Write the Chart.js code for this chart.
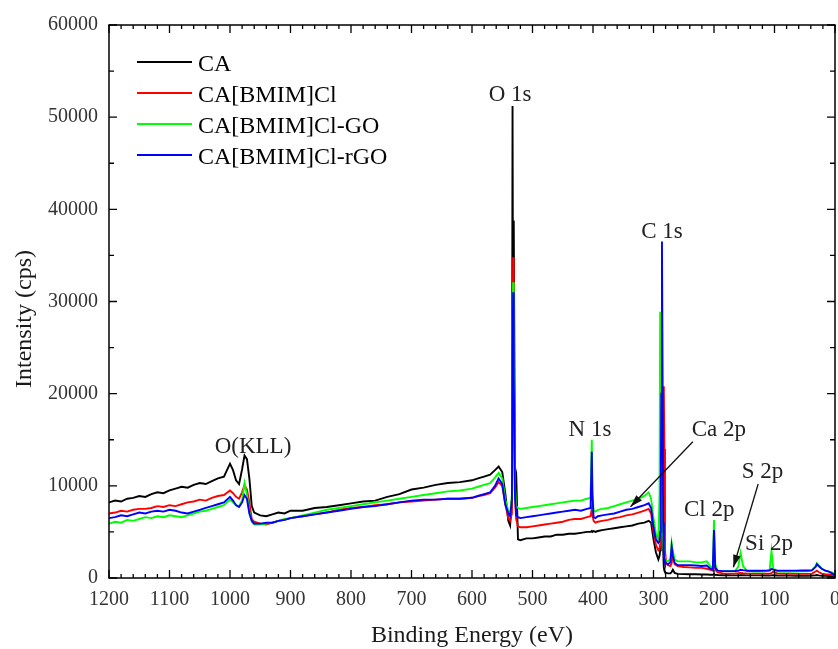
<!DOCTYPE html>
<html>
<head>
<meta charset="utf-8">
<script src="https://cdn.jsdelivr.net/npm/chart.js@4.4.1/dist/chart.umd.min.js"></script>
<style>
  html, body { margin: 0; padding: 0; background: #fff; }
  #wrap { width: 838px; height: 649px; }
</style>
</head>
<body>
<div id="wrap"><canvas id="xps" width="838" height="649"></canvas></div>
<script>
"use strict"

// binding energy (eV), shared by all four spectra
var energy = [
  1200, 1190, 1180, 1170, 1160, 1150, 1140, 1130, 1120, 1110,
  1100, 1090, 1080, 1070, 1060, 1050, 1040, 1030, 1020, 1010,
  1000, 995, 990, 985, 980, 976, 972, 968, 964, 960,
  950, 940, 930, 920, 910, 900, 880, 860, 840, 820,
  800, 780, 760, 740, 720, 700, 680, 660, 640, 620,
  600, 590, 580, 570, 562, 556, 550, 545, 540, 537,
  534, 533, 532, 531, 529, 527, 524, 520, 510, 500,
  490, 480, 470, 460, 450, 440, 430, 420, 410, 404,
  402, 401, 399, 396, 392, 385, 375, 365, 355, 345,
  335, 325, 315, 308, 304, 300, 296, 292, 290, 289,
  288, 287, 286, 285, 284, 283, 282, 281, 279, 276,
  272, 270, 268, 265, 260, 250, 240, 230, 220, 212,
  206, 202, 200, 198, 194, 185, 175, 165, 160, 156,
  152, 145, 135, 125, 115, 108, 105, 102, 95, 85,
  75, 65, 55, 45, 38, 32, 30, 27, 22, 16,
  10, 5, 0
];

var caCounts = [
  8200, 8400, 8300, 8600, 8700, 8900, 8800, 9100, 9300, 9200,
  9500, 9700, 9900, 9800, 10100, 10300, 10200, 10500, 10800, 11000,
  12400, 11700, 10600, 10200, 11800, 13300, 12900, 10800, 7800, 7100,
  6800, 6700, 6900, 7100, 7000, 7300, 7300, 7600, 7700, 7900,
  8100, 8300, 8400, 8800, 9100, 9600, 9800, 10100, 10300, 10400,
  10600, 10800, 11000, 11200, 11700, 12100, 11500, 9200, 6200, 5700,
  8500, 51200, 22000, 38800, 12000, 11400, 4200, 4100, 4300, 4300,
  4400, 4500, 4500, 4700, 4700, 4800, 4800, 4900, 5000, 5000,
  5100, 5000, 5100, 5000, 5100, 5200, 5300, 5400, 5500, 5600,
  5700, 5900, 6000, 6200, 6000, 4200, 2800, 2000, 2400, 3000,
  6000, 12000, 17000, 9000, 3000, 1200, 800, 650, 550, 500,
  500, 650, 900, 550, 450, 420, 400, 400, 380, 380,
  360, 350, 420, 340, 320, 300, 300, 290, 290, 300,
  300, 290, 280, 280, 270, 270, 280, 300, 270, 260,
  260, 250, 250, 240, 260, 300, 320, 280, 250, 230,
  220, 210, 200
];

var bmimCounts = [
  7000, 7100, 7300, 7200, 7400, 7500, 7500, 7600, 7800, 7700,
  7900, 7800, 8000, 8200, 8300, 8500, 8400, 8700, 8900, 9000,
  9500, 9200, 8800, 8600, 9300, 10100, 9600, 8200, 6400, 6100,
  5900, 5800, 6000, 6200, 6300, 6500, 6700, 6900, 7100, 7400,
  7600, 7700, 7900, 8000, 8200, 8300, 8400, 8500, 8600, 8600,
  8700, 8900, 9000, 9200, 9800, 10400, 10000, 8000, 6500, 6200,
  7000, 22000, 34800, 26000, 9000, 6400, 5600, 5500, 5500, 5600,
  5700, 5800, 5900, 6000, 6100, 6300, 6400, 6400, 6600, 6700,
  7500, 6900, 6200, 6000, 6100, 6200, 6300, 6500, 6600, 6800,
  6900, 7100, 7300, 7500, 7000, 5000, 3600, 3000, 3200, 3600,
  4500, 6000, 8000, 12000, 17000, 20800, 14000, 3000, 1600, 1400,
  1300, 1600, 2600, 1500, 1300, 1200, 1150, 1100, 1100, 1000,
  900, 800, 3000, 900, 600, 500, 480, 500, 520, 560,
  520, 480, 480, 470, 470, 480, 520, 700, 470, 460,
  460, 450, 450, 450, 480, 700, 800, 650, 480, 420,
  380, 320, 260
];

var goCounts = [
  5900, 6100, 6000, 6300, 6200, 6400, 6600, 6500, 6700, 6600,
  6800, 6700, 6600, 6800, 7000, 7200, 7300, 7500, 7700, 7900,
  8500, 8200, 7900, 7800, 8400, 10300, 9000, 7200, 6100, 5800,
  5800, 5900, 6000, 6200, 6400, 6500, 6800, 7100, 7400, 7600,
  7800, 8000, 8200, 8400, 8600, 8800, 9000, 9200, 9400, 9500,
  9700, 9900, 10100, 10300, 10900, 11400, 10800, 8500, 7300, 7000,
  9000, 26000, 32100, 24000, 10000, 7800, 7600, 7500, 7600, 7700,
  7800, 7900, 8000, 8100, 8200, 8300, 8400, 8400, 8600, 8700,
  15000, 9500, 7300, 7200, 7400, 7500, 7600, 7800, 8000, 8200,
  8400, 8600, 8900, 9300, 8600, 6500, 4800, 4200, 9000, 28900,
  20000, 9000, 6000, 5000, 4000, 3000, 2400, 2000, 1900, 1800,
  2100, 3800, 2900, 2000, 1800, 1800, 1800, 1700, 1700, 1800,
  1300, 1000, 6300, 1500, 800, 750, 750, 800, 1200, 2700,
  1300, 750, 700, 700, 720, 900, 2900, 1000, 700, 700,
  700, 700, 720, 720, 800, 1300, 1600, 1400, 1000, 800,
  700, 600, 400
];

var rgoCounts = [
  6500, 6600, 6800, 6700, 6900, 7100, 7000, 7200, 7300, 7200,
  7400, 7300, 7100, 7000, 7200, 7400, 7600, 7800, 8000, 8200,
  8800, 8400, 7900, 7700, 8200, 9000, 8600, 7000, 6200, 5900,
  5900, 6000, 6000, 6200, 6300, 6500, 6700, 6900, 7100, 7300,
  7500, 7700, 7800, 8000, 8200, 8400, 8500, 8500, 8600, 8600,
  8700, 8900, 9100, 9300, 10000, 10800, 10200, 8000, 7000, 6700,
  8500, 24000, 31000, 22000, 9000, 6800, 6600, 6500, 6600, 6700,
  6800, 6900, 7000, 7100, 7200, 7300, 7400, 7300, 7500, 7600,
  13700, 9000, 6600, 6500, 6700, 6800, 6900, 7000, 7200, 7400,
  7500, 7700, 7900, 8100, 7600, 5500, 4200, 3800, 4000, 5000,
  9000, 20000, 36500, 22000, 6000, 3000, 2000, 1700, 1600, 1500,
  1700, 3400, 2400, 1600, 1400, 1400, 1400, 1350, 1300, 1350,
  1000, 900, 5200, 1100, 800, 750, 750, 760, 780, 900,
  850, 780, 780, 780, 800, 820, 1000, 900, 800, 800,
  800, 800, 820, 820, 850, 1200, 1500, 1300, 1000, 800,
  700, 500, 300
];

var seriesNames = ['CA', 'CA[BMIM]Cl', 'CA[BMIM]Cl-GO', 'CA[BMIM]Cl-rGO'];
var seriesColors = ['#000000', '#ff0000', '#00ff00', '#0000ff'];

// peak labels, placed in data units (energy, counts)
var peakNames  = ['O 1s', 'C 1s', 'N 1s', 'Ca 2p', 'S 2p', 'Cl 2p', 'Si 2p', 'O(KLL)'];
var peakEnergy = [537, 286, 405, 192, 120, 208, 109, 962];
var peakHeight = [51700, 36900, 15400, 15400, 10850, 6720, 3040, 13560];

// pointer arrows: [fromEnergy, fromCounts, toEnergy, toCounts]
var arrows = [
  [235, 14780, 338, 7730],
  [127, 10200, 168, 1160]
];

var serif = '"Liberation Serif", "Times New Roman", serif';

function toPoints(vals) {
  return energy.map(function (e, i) { return { x: e, y: vals[i] }; });
}

var allCounts = [caCounts, bmimCounts, goCounts, rgoCounts];
var datasets = allCounts.map(function (vals, i) {
  return {
    label: seriesNames[i],
    data: toPoints(vals),
    borderColor: seriesColors[i],
    backgroundColor: seriesColors[i],
    borderWidth: 1.9,
    pointRadius: 0,
    fill: false,
    tension: 0,
    order: 4 - i // blue drawn last, on top
  };
});

var decor = {
  id: 'decor',
  afterDraw: function (chart) {
    var ctx = chart.ctx, a = chart.chartArea;
    var xs = chart.scales.x, ys = chart.scales.y;
    ctx.save();

    // frame
    ctx.strokeStyle = '#000';
    ctx.lineWidth = 1.5;
    ctx.strokeRect(a.left, a.top, a.right - a.left, a.bottom - a.top);

    // inward ticks on all four sides
    ctx.lineWidth = 1.3;
    ctx.beginPath();
    for (var e = 0; e <= 1200; e += 20) {
      var px = xs.getPixelForValue(e);
      var len = (e % 100 === 0) ? 8 : 4;
      ctx.moveTo(px, a.bottom); ctx.lineTo(px, a.bottom - len);
      ctx.moveTo(px, a.top); ctx.lineTo(px, a.top + len);
    }
    for (var v = 0; v <= 60000; v += 5000) {
      var py = ys.getPixelForValue(v);
      var l2 = (v % 10000 === 0) ? 8 : 5;
      ctx.moveTo(a.left, py); ctx.lineTo(a.left + l2, py);
      ctx.moveTo(a.right, py); ctx.lineTo(a.right - l2, py);
    }
    ctx.stroke();

    // axis titles
    ctx.fillStyle = '#1a1a1a';
    ctx.font = '24px ' + serif;
    ctx.textAlign = 'center';
    ctx.textBaseline = 'alphabetic';
    ctx.fillText('Binding Energy (eV)', (a.left + a.right) / 2, 642);
    ctx.save();
    ctx.translate(31, 319);
    ctx.rotate(-Math.PI / 2);
    ctx.fillText('Intensity (cps)', 0, 0);
    ctx.restore();

    // legend
    ctx.textAlign = 'left';
    ctx.font = '24px ' + serif;
    seriesNames.forEach(function (name, i) {
      var ly = 62 + i * 31;
      ctx.strokeStyle = seriesColors[i];
      ctx.lineWidth = 2;
      ctx.beginPath();
      ctx.moveTo(137, ly); ctx.lineTo(192, ly);
      ctx.stroke();
      ctx.fillStyle = '#000';
      ctx.fillText(name, 198, ly + 9);
    });

    // peak labels
    ctx.fillStyle = '#222';
    ctx.font = '23px ' + serif;
    ctx.textAlign = 'center';
    peakNames.forEach(function (name, i) {
      ctx.fillText(name, xs.getPixelForValue(peakEnergy[i]), ys.getPixelForValue(peakHeight[i]));
    });

    // arrows
    ctx.strokeStyle = '#111';
    ctx.fillStyle = '#111';
    ctx.lineWidth = 1.3;
    arrows.forEach(function (ar) {
      var x1 = xs.getPixelForValue(ar[0]), y1 = ys.getPixelForValue(ar[1]);
      var x2 = xs.getPixelForValue(ar[2]), y2 = ys.getPixelForValue(ar[3]);
      var ang = Math.atan2(y2 - y1, x2 - x1);
      ctx.beginPath();
      ctx.moveTo(x1, y1); ctx.lineTo(x2, y2);
      ctx.stroke();
      ctx.beginPath();
      ctx.moveTo(x2, y2);
      ctx.lineTo(x2 - 13 * Math.cos(ang - 0.3), y2 - 13 * Math.sin(ang - 0.3));
      ctx.lineTo(x2 - 13 * Math.cos(ang + 0.3), y2 - 13 * Math.sin(ang + 0.3));
      ctx.closePath();
      ctx.fill();
    });

    ctx.restore();
  }
};

var plain = function (value) { return String(value); };

var chart = new Chart(document.getElementById('xps').getContext('2d'), {
  type: 'line',
  data: { datasets: datasets },
  options: {
    responsive: false,
    animation: false,
    layout: { padding: { top: 25, right: 3, left: 0, bottom: 0 } },
    plugins: { legend: { display: false }, tooltip: { enabled: false } },
    scales: {
      x: {
        type: 'linear',
        reverse: true,
        min: 0,
        max: 1200,
        grid: { display: false, drawTicks: false },
        border: { display: false },
        ticks: {
          stepSize: 100,
          maxRotation: 0,
          autoSkip: false,
          padding: 10,
          color: '#333',
          font: { family: serif, size: 20 },
          callback: plain
        },
        afterFit: function (s) { s.height = 71; s.paddingLeft = 0; s.paddingRight = 0; }
      },
      y: {
        min: 0,
        max: 60000,
        grid: { display: false, drawTicks: false },
        border: { display: false },
        ticks: {
          stepSize: 10000,
          padding: 11,
          color: '#333',
          font: { family: serif, size: 20 },
          callback: plain
        },
        afterFit: function (s) { s.width = 109; s.paddingTop = 0; s.paddingBottom = 0; }
      }
    }
  },
  plugins: [decor]
});
</script>
</body>
</html>
